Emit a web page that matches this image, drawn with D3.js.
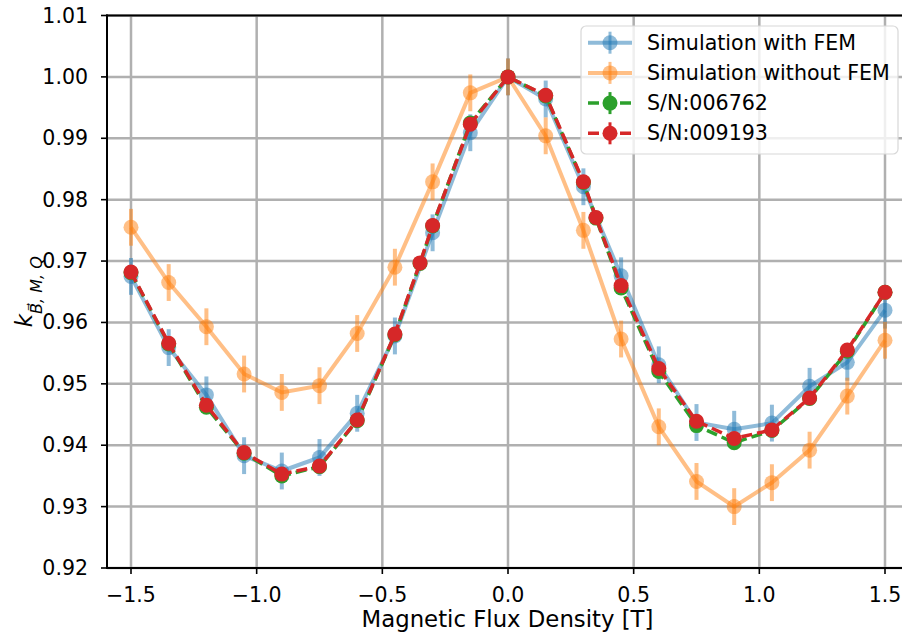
<!DOCTYPE html>
<html>
<head>
<meta charset="utf-8">
<script src="https://cdn.jsdelivr.net/npm/d3@7"></script>
<style>
  body { margin: 0; background: #fff; }
  svg { display: block; font-family: "DejaVu Sans", sans-serif; }
</style>
</head>
<body>
<svg width="902" height="637"></svg>
<script>
// simulated points (both simulations share these B values)
const simX = [-1.5, -1.35, -1.2, -1.05, -0.9, -0.75, -0.6, -0.45, -0.3, -0.15, 0,
              0.15, 0.3, 0.45, 0.6, 0.75, 0.9, 1.05, 1.2, 1.35, 1.5];
const withFem = [0.9675, 0.9559, 0.9482, 0.9383, 0.9358, 0.9380, 0.9452, 0.9578, 0.9746, 0.9909, 1.0000,
                 0.9964, 0.9821, 0.9676, 0.9531, 0.9437, 0.9426, 0.9436, 0.9496, 0.9535, 0.9620];
const withoutFem = [0.9755, 0.9665, 0.9593, 0.9516, 0.9486, 0.9497, 0.9582, 0.9690, 0.9829, 0.9974, 1.0000,
                    0.9904, 0.9750, 0.9573, 0.9430, 0.9341, 0.9300, 0.9339, 0.9392, 0.9480, 0.9571];
const simErr = 0.003;

// measured sensors
const measX = [-1.5, -1.35, -1.2, -1.05, -0.9, -0.75, -0.6, -0.45, -0.35, -0.3, -0.15, 0,
               0.15, 0.3, 0.35, 0.45, 0.6, 0.75, 0.9, 1.05, 1.2, 1.35, 1.5];
const sn006762 = [0.9681, 0.9565, 0.9462, 0.9387, 0.9350, 0.9365, 0.9440, 0.9580, 0.9696, 0.9757, 0.9925, 1.0000,
                  0.9969, 0.9828, 0.9770, 0.9656, 0.9520, 0.9432, 0.9404, 0.9424, 0.9476, 0.9553, 0.9649];
const sn009193 = [0.9682, 0.9566, 0.9465, 0.9388, 0.9353, 0.9366, 0.9441, 0.9581, 0.9697, 0.9758, 0.9923, 1.0000,
                  0.9970, 0.9829, 0.9771, 0.9660, 0.9525, 0.9439, 0.9411, 0.9425, 0.9477, 0.9555, 0.9649];
const measErr = 0.0008;

const xTicks = [-1.5, -1.0, -0.5, 0.0, 0.5, 1.0, 1.5];
const yTicks = [0.92, 0.93, 0.94, 0.95, 0.96, 0.97, 0.98, 0.99, 1.00, 1.01];

const series = [
  {name: "Simulation with FEM", xs: simX, ys: withFem, err: simErr, color: "#1f77b4", alpha: 0.5, dash: null},
  {name: "Simulation without FEM", xs: simX, ys: withoutFem, err: simErr, color: "#ff7f0e", alpha: 0.5, dash: null},
  {name: "S/N:006762", xs: measX, ys: sn006762, err: measErr, color: "#2ca02c", alpha: 1, dash: "11,5"},
  {name: "S/N:009193", xs: measX, ys: sn009193, err: measErr, color: "#d62728", alpha: 1, dash: "11,5"}
];

const svg = d3.select("svg");
const plotLeft = 107, plotTop = 15.5, plotBottom = 568;

const x = d3.scaleLinear().domain([-1.5, 1.5]).range([131, 885]);
const y = d3.scaleLinear().domain([0.92, 1.01]).range([plotBottom, plotTop]);
const plotRight = x(1.6);

const fmtX = d => d3.format(".1f")(d).replace("-", "\u2212");

// grid
const grid = svg.append("g").attr("stroke", "#b0b0b0").attr("stroke-width", 2.5);
grid.selectAll(".gx").data(xTicks).enter().append("line")
    .attr("x1", d => x(d)).attr("x2", d => x(d)).attr("y1", plotTop).attr("y2", plotBottom);
grid.selectAll(".gy").data(yTicks).enter().append("line")
    .attr("x1", plotLeft).attr("x2", plotRight).attr("y1", d => y(d)).attr("y2", d => y(d));

// data: line, error bars and markers each carry their own alpha (like matplotlib)
const line = d3.line().x(d => x(d[0])).y(d => y(d[1]));
series.forEach(s => {
  const pts = s.xs.map((v, i) => [v, s.ys[i]]);
  const g = svg.append("g");
  g.append("path")
      .attr("d", line(pts))
      .attr("fill", "none")
      .attr("stroke", s.color).attr("stroke-opacity", s.alpha)
      .attr("stroke-width", s.dash ? 3.5 : 4)
      .attr("stroke-dasharray", s.dash);
  g.selectAll(".err").data(pts).enter().append("line")
      .attr("x1", d => x(d[0])).attr("x2", d => x(d[0]))
      .attr("y1", d => y(d[1] - s.err)).attr("y2", d => y(d[1] + s.err))
      .attr("stroke", s.color).attr("stroke-opacity", s.alpha).attr("stroke-width", 4);
  g.selectAll("circle").data(pts).enter().append("circle")
      .attr("cx", d => x(d[0])).attr("cy", d => y(d[1]))
      .attr("r", 7.5).attr("fill", s.color).attr("fill-opacity", s.alpha);
});

// spines
const ax = svg.append("g").attr("stroke", "#000").attr("stroke-width", 2);
ax.append("line").attr("x1", plotLeft).attr("x2", plotLeft).attr("y1", plotTop - 1).attr("y2", plotBottom + 1);
ax.append("line").attr("x1", plotLeft - 1).attr("x2", plotRight).attr("y1", plotBottom).attr("y2", plotBottom);
ax.append("line").attr("x1", plotLeft - 1).attr("x2", plotRight).attr("y1", plotTop).attr("y2", plotTop);

// ticks
const xAxis = svg.append("g");
xAxis.selectAll("line").data(xTicks).enter().append("line")
    .attr("x1", d => x(d)).attr("x2", d => x(d)).attr("y1", plotBottom).attr("y2", plotBottom + 6)
    .attr("stroke", "#000").attr("stroke-width", 1.6);
xAxis.selectAll("text").data(xTicks).enter().append("text")
    .attr("x", d => x(d)).attr("y", plotBottom + 34)
    .attr("text-anchor", "middle").attr("font-size", 20.5)
    .text(fmtX);

const yAxis = svg.append("g");
yAxis.selectAll("line").data(yTicks).enter().append("line")
    .attr("x1", plotLeft - 6).attr("x2", plotLeft).attr("y1", d => y(d)).attr("y2", d => y(d))
    .attr("stroke", "#000").attr("stroke-width", 1.6);
yAxis.selectAll("text").data(yTicks).enter().append("text")
    .attr("x", plotLeft - 19).attr("y", d => y(d) + 7)
    .attr("text-anchor", "end").attr("font-size", 20.5)
    .text(d => d3.format(".2f")(d));

// axis labels
svg.append("text")
    .attr("x", 507.5).attr("y", 627)
    .attr("text-anchor", "middle").attr("font-size", 22.8)
    .text("Magnetic Flux Density [T]");

const yl = svg.append("text")
    .attr("transform", `translate(32,${(plotTop + plotBottom) / 2}) rotate(-90)`)
    .attr("text-anchor", "middle").attr("font-size", 23).attr("font-style", "italic");
yl.append("tspan").text("k");
yl.append("tspan").attr("font-size", 16).attr("dy", 10).text("B\u20D7, M, Q");

// legend
const lg = svg.append("g");
lg.append("rect")
    .attr("x", 581).attr("y", 26).attr("width", 317).attr("height", 128).attr("rx", 5)
    .attr("fill", "#fff").attr("fill-opacity", 0.8)
    .attr("stroke", "#d8d8d8").attr("stroke-width", 1.2);
series.forEach((s, i) => {
  const cy = 42.7 + i * 30.2;
  const g = lg.append("g");
  g.append("line").attr("x1", 588).attr("x2", 632).attr("y1", cy).attr("y2", cy)
      .attr("stroke", s.color).attr("stroke-opacity", s.alpha)
      .attr("stroke-width", s.dash ? 3.5 : 4)
      .attr("stroke-dasharray", s.dash);
  g.append("line").attr("x1", 610).attr("x2", 610).attr("y1", cy - 11).attr("y2", cy + 11)
      .attr("stroke", s.color).attr("stroke-opacity", s.alpha).attr("stroke-width", 3);
  g.append("circle").attr("cx", 610).attr("cy", cy).attr("r", 7.5)
      .attr("fill", s.color).attr("fill-opacity", s.alpha);
  lg.append("text").attr("x", 647).attr("y", cy + 7).attr("font-size", 20.6).text(s.name);
});
</script>
</body>
</html>
